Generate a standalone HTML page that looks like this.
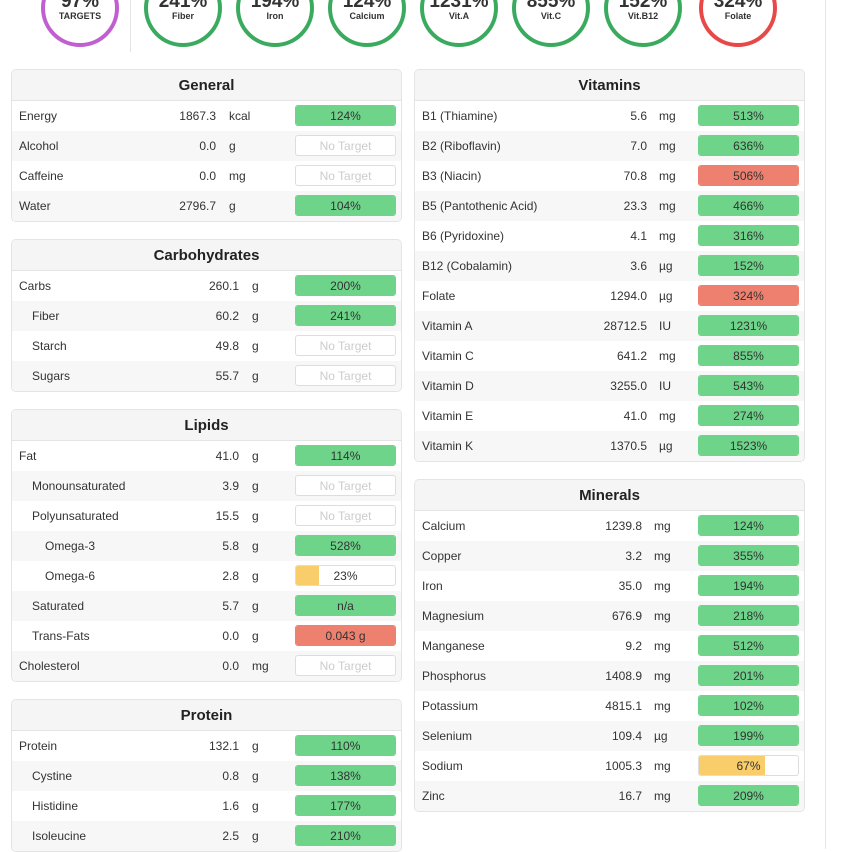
<!DOCTYPE html>
<html><head><meta charset="utf-8"><style>
body{margin:0;width:849px;height:849px;overflow:hidden;background:#fff;font-family:"Liberation Sans",sans-serif;color:#333;position:relative}
.vline{position:absolute;left:825px;top:0;width:1px;height:849px;background:#e6e6e6}
.div{position:absolute;left:130px;top:0;width:1px;height:52px;background:#e3e3e3}
.ring{position:absolute;width:70px;height:70px;border-radius:50%;border:4px solid #3aaa5f;top:-31px;text-align:center}
.ring .p{position:absolute;left:-10px;right:-10px;top:19px;font-size:19px;font-weight:bold;color:#333;line-height:20px}
.ring .l{position:absolute;left:-10px;right:-10px;top:38px;font-size:9px;font-weight:bold;color:#333}
.panel{position:absolute;width:389px;border:1px solid #e4e4e4;border-radius:5px;overflow:hidden;background:#fff}
.hd{height:30px;line-height:31px;text-align:center;font-weight:bold;font-size:15px;background:#f5f5f5;border-bottom:1px solid #e4e4e4;color:#222}
.row{height:30px;position:relative;font-size:12px}
.row:nth-child(even){background:#f7f7f7}
.nm{position:absolute;top:8px}
.vl{position:absolute;top:8px;text-align:right;width:80px}
.un{position:absolute;top:8px}
.bar{position:absolute;top:4px;width:101px;height:21px;border:1px solid #ddd;border-radius:3px;box-sizing:border-box;overflow:hidden;background:#fff;text-align:center;line-height:20px;font-size:12px}
.bar .f{position:absolute;left:0;top:0;bottom:0}
.bar .t{position:relative}
</style></head><body>
<div class="vline"></div>
<div class="div"></div>
<div id="rings"></div>
<div id="panels"></div>
<script>
const ringLabels=["TARGETS","Fiber","Iron","Calcium","Vit.A","Vit.C","Vit.B12","Folate"];
const ringValues=["97%","241%","194%","124%","1231%","855%","152%","324%"];
const ringX=[80,183,275,367,459,551,643,738];
const ringColor=["#c05fcf","#3aaa5f","#3aaa5f","#3aaa5f","#3aaa5f","#3aaa5f","#3aaa5f","#e84848"];
const R=document.getElementById('rings');
ringLabels.forEach((l,i)=>{
 const d=document.createElement('div');d.className='ring';
 
 
 d.style.left=(ringX[i]-39)+'px';d.style.borderColor=ringColor[i];
 d.innerHTML='<div class="p">'+ringValues[i]+'</div><div class="l">'+l+'</div>';
 R.appendChild(d);
});
const G="#6dd48a",Rd="#ee8070",Y="#f8cd6a";
const panels=[
 {t:"General",x:11,y:69,vr:204,u:217,r:[["Energy","1867.3","kcal",0,"124%",G,1],["Alcohol","0.0","g",0,"No Target",null],["Caffeine","0.0","mg",0,"No Target",null],["Water","2796.7","g",0,"104%",G,1]]},
 {t:"Carbohydrates",x:11,y:239,vr:227,u:240,r:[["Carbs","260.1","g",0,"200%",G,1],["Fiber","60.2","g",1,"241%",G,1],["Starch","49.8","g",1,"No Target",null],["Sugars","55.7","g",1,"No Target",null]]},
 {t:"Lipids",x:11,y:409,vr:227,u:240,r:[["Fat","41.0","g",0,"114%",G,1],["Monounsaturated","3.9","g",1,"No Target",null],["Polyunsaturated","15.5","g",1,"No Target",null],["Omega-3","5.8","g",2,"528%",G,1],["Omega-6","2.8","g",2,"23%",Y,0.23],["Saturated","5.7","g",1,"n/a",G,1],["Trans-Fats","0.0","g",1,"0.043 g",Rd,1],["Cholesterol","0.0","mg",0,"No Target",null]]},
 {t:"Protein",x:11,y:699,vr:227,u:240,r:[["Protein","132.1","g",0,"110%",G,1],["Cystine","0.8","g",1,"138%",G,1],["Histidine","1.6","g",1,"177%",G,1],["Isoleucine","2.5","g",1,"210%",G,1]]},
 {t:"Vitamins",x:414,y:69,vr:232,u:244,r:[["B1 (Thiamine)","5.6","mg",0,"513%",G,1],["B2 (Riboflavin)","7.0","mg",0,"636%",G,1],["B3 (Niacin)","70.8","mg",0,"506%",Rd,1],["B5 (Pantothenic Acid)","23.3","mg",0,"466%",G,1],["B6 (Pyridoxine)","4.1","mg",0,"316%",G,1],["B12 (Cobalamin)","3.6","µg",0,"152%",G,1],["Folate","1294.0","µg",0,"324%",Rd,1],["Vitamin A","28712.5","IU",0,"1231%",G,1],["Vitamin C","641.2","mg",0,"855%",G,1],["Vitamin D","3255.0","IU",0,"543%",G,1],["Vitamin E","41.0","mg",0,"274%",G,1],["Vitamin K","1370.5","µg",0,"1523%",G,1]]},
 {t:"Minerals",x:414,y:479,vr:227,u:239,r:[["Calcium","1239.8","mg",0,"124%",G,1],["Copper","3.2","mg",0,"355%",G,1],["Iron","35.0","mg",0,"194%",G,1],["Magnesium","676.9","mg",0,"218%",G,1],["Manganese","9.2","mg",0,"512%",G,1],["Phosphorus","1408.9","mg",0,"201%",G,1],["Potassium","4815.1","mg",0,"102%",G,1],["Selenium","109.4","µg",0,"199%",G,1],["Sodium","1005.3","mg",0,"67%",Y,0.67],["Zinc","16.7","mg",0,"209%",G,1]]}
];
const P=document.getElementById('panels');
panels.forEach(p=>{
 const el=document.createElement('div');el.className='panel';
 
 
 el.style.left=p.x+'px';el.style.top=p.y+'px';
 let h='<div class="hd">'+p.t+'</div><div>';
 p.r.forEach(r=>{
  const ind=7+r[3]*13;
  let bar;
  if(r[5]===null) bar='<span class="t" style="color:#ccc">'+r[4]+'</span>';
  else bar='<div class="f" style="width:'+(r[6]*100)+'%;background:'+r[5]+'"></div><span class="t">'+r[4]+'</span>';
  const bstyle=(r[5]!==null&&r[6]>=1)?'border-color:'+r[5]:'';
  h+='<div class="row"><span class="nm" style="left:'+ind+'px">'+r[0]+'</span><span class="vl" style="left:'+(p.vr-80)+'px">'+r[1]+'</span><span class="un" style="left:'+p.u+'px">'+r[2]+'</span><div class="bar" style="left:283px;'+bstyle+'">'+bar+'</div></div>';
 });
 el.innerHTML=h+'</div>';
 P.appendChild(el);
});
</script>
</body></html>
